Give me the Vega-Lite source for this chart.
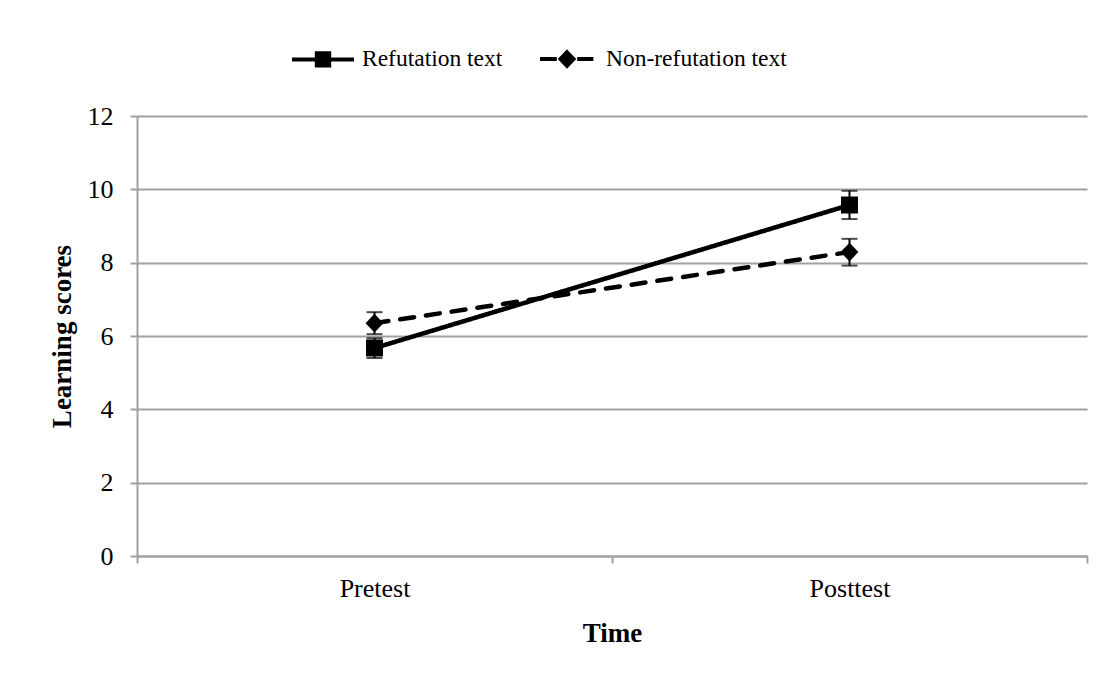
{
  "$schema": "https://vega.github.io/schema/vega-lite/v6.json",
  "width": 950,
  "height": 440,
  "autosize": {"type": "none"},
  "padding": {"left": 137, "top": 116, "right": 27, "bottom": 126},
  "background": "white",
  "data": {
    "values": [
      {"time": "Pretest", "group": "Refutation text", "mean": 5.67, "lo": 5.40, "hi": 5.94},
      {"time": "Posttest", "group": "Refutation text", "mean": 9.57, "lo": 9.19, "hi": 9.96},
      {"time": "Pretest", "group": "Non-refutation text", "mean": 6.35, "lo": 6.05, "hi": 6.65},
      {"time": "Posttest", "group": "Non-refutation text", "mean": 8.29, "lo": 7.92, "hi": 8.65}
    ]
  },
  "encoding": {
    "x": {
      "field": "time",
      "type": "nominal",
      "sort": ["Pretest", "Posttest"],
      "scale": {"paddingInner": 0, "paddingOuter": 0},
      "axis": {
        "title": "Time",
        "labelAngle": 0,
        "tickBand": "extent",
        "grid": false,
        "domainColor": "#a0a0a0",
        "domainWidth": 2,
        "tickColor": "#a0a0a0",
        "tickWidth": 2,
        "tickSize": 7,
        "labelPadding": 12,
        "titlePadding": 19
      }
    }
  },
  "layer": [
    {
      "mark": {"type": "line", "color": "black", "strokeWidth": 4.5, "strokeCap": "round"},
      "encoding": {
        "y": {
          "field": "mean",
          "type": "quantitative",
          "scale": {"domain": [0, 12], "nice": false},
          "axis": {
            "title": "Learning scores",
            "values": [0, 2, 4, 6, 8, 10, 12],
            "grid": true,
            "gridColor": "#a0a0a0",
            "gridWidth": 2,
            "domainColor": "#a0a0a0",
            "domainWidth": 2,
            "tickColor": "#a0a0a0",
            "tickWidth": 2,
            "tickSize": 7,
            "labelPadding": 17,
            "titlePadding": 11
          }
        },
        "strokeDash": {
          "field": "group",
          "type": "nominal",
          "scale": {"domain": ["Non-refutation text", "Refutation text"], "range": [[14, 12], [1, 0]]},
          "legend": null
        }
      }
    },
    {
      "mark": {"type": "rule", "color": "black", "strokeWidth": 2},
      "encoding": {
        "y": {"field": "lo", "type": "quantitative"},
        "y2": {"field": "hi"},
        "detail": {"field": "group"}
      }
    },
    {
      "mark": {"type": "tick", "color": "black", "thickness": 2, "size": 16, "orient": "horizontal"},
      "encoding": {
        "y": {"field": "lo", "type": "quantitative"},
        "detail": {"field": "group"}
      }
    },
    {
      "mark": {"type": "tick", "color": "black", "thickness": 2, "size": 16, "orient": "horizontal"},
      "encoding": {
        "y": {"field": "hi", "type": "quantitative"},
        "detail": {"field": "group"}
      }
    },
    {
      "mark": {"type": "point", "filled": true, "color": "black", "opacity": 1, "size": 7225},
      "encoding": {
        "y": {"field": "mean", "type": "quantitative"},
        "shape": {
          "field": "group",
          "type": "nominal",
          "scale": {
            "domain": ["Refutation text", "Non-refutation text"],
            "range": [
              "M-1,0H1M-0.2,-0.2H0.2V0.2H-0.2Z",
              "M-0.87,0H-0.33M0.33,0H0.85M0,-0.22L0.21,0L0,0.22L-0.21,0Z"
            ]
          },
          "legend": {
            "title": null,
            "orient": "none",
            "direction": "horizontal",
            "legendX": 153,
            "legendY": -90,
            "columnPadding": 29,
            "labelOffset": 6,
            "symbolSize": 3844,
            "symbolStrokeWidth": 4,
            "symbolStrokeColor": "black",
            "symbolFillColor": "black",
            "symbolOpacity": 1,
            "encoding": {
              "symbols": {
                "size": {"value": 3844},
                "fill": {"value": "black"},
                "stroke": {"value": "black"},
                "strokeWidth": {"value": 4},
                "opacity": {"value": 1}
              }
            }
          }
        }
      }
    }
  ],
  "config": {
    "view": {"stroke": null},
    "font": "Liberation Serif",
    "axis": {
      "labelFont": "Liberation Serif",
      "labelFontSize": 26,
      "labelColor": "black",
      "titleFont": "Liberation Serif",
      "titleFontSize": 27,
      "titleFontWeight": "bold",
      "titleColor": "black"
    },
    "legend": {
      "labelFont": "Liberation Serif",
      "labelFontSize": 23.5,
      "labelColor": "black",
      "labelLimit": 400
    }
  }
}
